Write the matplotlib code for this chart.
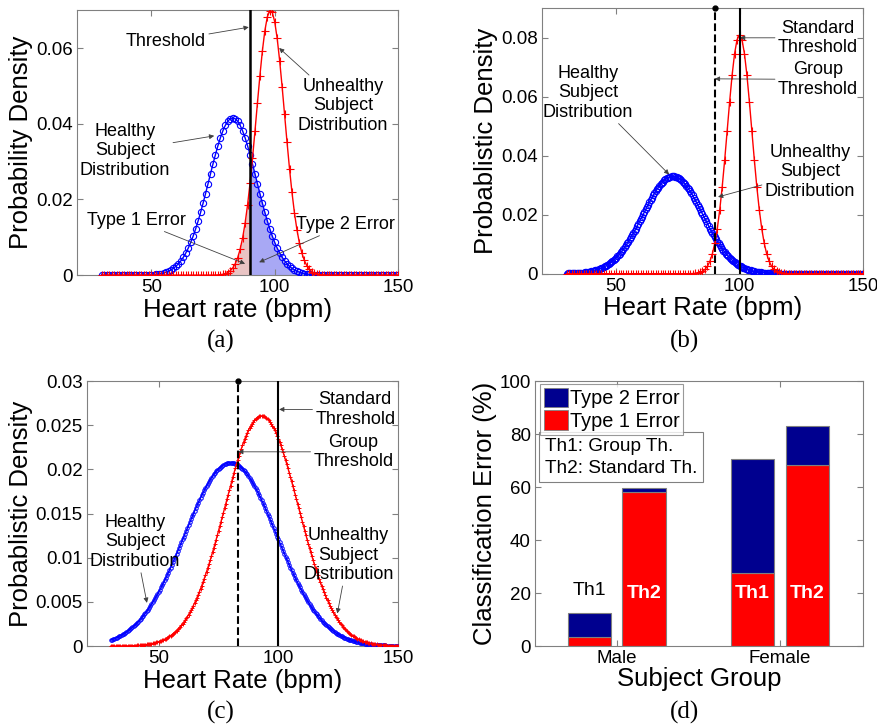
import numpy as np
import matplotlib
matplotlib.use("Agg")
import matplotlib.pyplot as plt
from matplotlib.ticker import FuncFormatter
from matplotlib.patches import Patch

plt.rcParams['font.family'] = ['Liberation Sans', 'DejaVu Sans']

# heart-rate span of the plotted curves
hr_start = 30
hr_stop = 150

# fitted normal distributions: [healthy, unhealthy] mean / std (bpm)
a_means = [83.0, 98.3]
a_sds = [9.6, 5.7]
a_threshold = 90

b_means = [73.0, 100.0]
b_sds = [12.1, 4.93]
b_group_th = 90
b_standard_th = 100

c_means = [80.0, 93.0]
c_sds = [19.2, 15.3]
c_group_th = 83
c_standard_th = 100

# classification error (%)
groups = ['Male', 'Female']
th1_type1 = [3.5, 27.5]
th1_type2 = [9.0, 43.3]
th2_type1 = [58.0, 68.5]
th2_type2 = [1.5, 14.5]

BLUE = '#0000FF'
RED = '#FF0000'
NAVY = '#00008F'
GRAY = '#808080'
ARROW = dict(arrowstyle='-|>', color='#404040', lw=0.6, mutation_scale=7,
             shrinkA=0, shrinkB=0)


def pdf(x, mu, sd):
    return np.exp(-(x - mu) ** 2 / (2 * sd ** 2)) / (sd * np.sqrt(2 * np.pi))


def style(ax):
    for s in ax.spines.values():
        s.set_color(GRAY)
        s.set_linewidth(0.8)
    ax.tick_params(direction='in', top=True, right=True, length=4,
                   color=GRAY, labelsize=13.5, pad=3)


fig = plt.figure(figsize=(8.77, 7.26), dpi=100)
ax_a = fig.add_axes([0.088, 0.621, 0.366, 0.365])
ax_b = fig.add_axes([0.618, 0.623, 0.366, 0.366])
ax_c = fig.add_axes([0.099, 0.110, 0.355, 0.365])
ax_d = fig.add_axes([0.610, 0.110, 0.374, 0.365])

fmt = FuncFormatter(lambda v, p: '%g' % v)
txt = dict(ha='center', va='center', fontsize=13, linespacing=1.2)

# ---------------- (a)
ax = ax_a
x = np.arange(hr_start, hr_stop + 0.01, 1.0)
xf = np.arange(hr_start, hr_stop + 0.01, 0.1)
ax.fill_between(xf[xf <= a_threshold], pdf(xf[xf <= a_threshold], a_means[1], a_sds[1]),
                color='#e9c4c4', lw=0, zorder=1)
ax.fill_between(xf[xf >= a_threshold], pdf(xf[xf >= a_threshold], a_means[0], a_sds[0]),
                color='#a8a8f4', lw=0, zorder=1)
ax.plot(x, pdf(x, a_means[0], a_sds[0]), '-o', color=BLUE, mfc='none', ms=4.5, lw=1, mew=0.8, zorder=3)
ax.plot(x, pdf(x, a_means[1], a_sds[1]), '-+', color=RED, ms=6, lw=1, mew=0.8, zorder=3)
ax.axvline(a_threshold, color='black', lw=1.8, zorder=4)
ax.set_xlim(20, 150)
ax.set_ylim(0, 0.07)
ax.set_xticks([50, 100, 150])
ax.set_yticks([0, 0.02, 0.04, 0.06])
ax.yaxis.set_major_formatter(fmt)
ax.set_xlabel('Heart rate (bpm)', fontsize=18.5, labelpad=1)
ax.set_ylabel('Probability Density', fontsize=18.5, labelpad=2)
ax.annotate('Threshold', xy=(89.5, 0.0655), xytext=(56, 0.0618), arrowprops=ARROW, **txt)
ax.annotate('Unhealthy\nSubject\nDistribution', xy=(101.8, 0.060), xytext=(127.7, 0.0447),
            arrowprops=ARROW, **txt)
ax.annotate('Healthy\nSubject\nDistribution', xy=(75.5, 0.0368), xytext=(39.4, 0.0329),
            arrowprops=ARROW, **txt)
ax.annotate('Type 1 Error', xy=(88, 0.003), xytext=(43.9, 0.0145), arrowprops=ARROW, **txt)
ax.annotate('Type 2 Error', xy=(93.7, 0.0034), xytext=(128.5, 0.0134), arrowprops=ARROW, **txt)
style(ax)

# ---------------- (b)
ax = ax_b
x = np.arange(hr_start, hr_stop + 0.01, 0.5)
x1 = np.arange(hr_start, hr_stop + 0.01, 1.0)
ax.plot(x, pdf(x, b_means[0], b_sds[0]), '-o', color=BLUE, mfc='none', ms=4.5, lw=1, mew=0.8, zorder=3)
ax.plot(x1, pdf(x1, b_means[1], b_sds[1]), '-+', color=RED, ms=6, lw=1, mew=0.8, zorder=3)
ax.plot([b_group_th, b_group_th], [0, 0.09], '--', color='black', lw=1.5, zorder=4)
ax.plot([b_group_th], [0.09], 'o', color='black', ms=3.5, clip_on=False, zorder=5)
ax.axvline(b_standard_th, color='black', lw=1.5, zorder=4)
ax.set_xlim(20, 150)
ax.set_ylim(0, 0.09)
ax.set_xticks([50, 100, 150])
ax.set_yticks([0, 0.02, 0.04, 0.06, 0.08])
ax.yaxis.set_major_formatter(fmt)
ax.set_xlabel('Heart Rate (bpm)', fontsize=18.5, labelpad=1)
ax.set_ylabel('Probablistic Density', fontsize=18.5, labelpad=2)
ax.annotate('Standard\nThreshold', xy=(100.2, 0.0799), xytext=(131.7, 0.0799), arrowprops=ARROW, **txt)
ax.annotate('Group\nThreshold', xy=(90, 0.066), xytext=(131.7, 0.0658), arrowprops=ARROW, **txt)
ax.annotate('Healthy\nSubject\nDistribution', xy=(71.5, 0.0336), xytext=(38.6, 0.0613),
            arrowprops=ARROW, **txt)
ax.annotate('Unhealthy\nSubject\nDistribution', xy=(91.3, 0.026), xytext=(128.5, 0.0345),
            arrowprops=ARROW, **txt)
style(ax)

# ---------------- (c)
ax = ax_c
x = np.arange(hr_start, hr_stop + 0.01, 0.5)
ax.plot(x, pdf(x, c_means[0], c_sds[0]), '-o', color=BLUE, mfc='none', ms=2.5, lw=1, mew=0.7, zorder=3)
ax.plot(x, pdf(x, c_means[1], c_sds[1]), '-+', color=RED, ms=3.5, lw=1, mew=0.7, zorder=3)
ax.plot([c_group_th, c_group_th], [0, 0.03], '--', color='black', lw=1.5, zorder=4)
ax.plot([c_group_th], [0.03], 'o', color='black', ms=3.5, clip_on=False, zorder=5)
ax.axvline(c_standard_th, color='black', lw=1.5, zorder=4)
ax.set_xlim(20, 150)
ax.set_ylim(0, 0.03)
ax.set_xticks([50, 100, 150])
ax.set_yticks([0, 0.005, 0.01, 0.015, 0.02, 0.025, 0.03])
ax.yaxis.set_major_formatter(fmt)
ax.set_xlabel('Heart Rate (bpm)', fontsize=18.5, labelpad=1)
ax.set_ylabel('Probablistic Density', fontsize=18.5, labelpad=2)
ax.annotate('Standard\nThreshold', xy=(100.3, 0.0268), xytext=(132.1, 0.0268), arrowprops=ARROW, **txt)
ax.annotate('Group\nThreshold', xy=(83.2, 0.022), xytext=(131.3, 0.022), arrowprops=ARROW, **txt)
ax.annotate('Healthy\nSubject\nDistribution', xy=(45.1, 0.0049), xytext=(40.1, 0.0118),
            arrowprops=ARROW, **txt)
ax.annotate('Unhealthy\nSubject\nDistribution', xy=(124.6, 0.0037), xytext=(129.2, 0.0103),
            arrowprops=ARROW, **txt)
style(ax)

# ---------------- (d)
ax = ax_d
pos = np.arange(1, len(groups) + 1)
w = 0.265
off = 0.168
bar_kw = dict(width=w, edgecolor=GRAY, linewidth=0.8)
ax.bar(pos - off, th1_type1, color=RED, **bar_kw)
ax.bar(pos - off, th1_type2, bottom=th1_type1, color=NAVY, **bar_kw)
ax.bar(pos + off, th2_type1, color=RED, **bar_kw)
ax.bar(pos + off, th2_type2, bottom=th2_type1, color=NAVY, **bar_kw)
ax.text(pos[0] - off, 21, 'Th1', ha='center', va='center', fontsize=14)
ax.text(pos[0] + off, 20, 'Th2', ha='center', va='center', fontsize=14, color='white', fontweight='bold')
ax.text(pos[1] - off, 20, 'Th1', ha='center', va='center', fontsize=14, color='white', fontweight='bold')
ax.text(pos[1] + off, 20, 'Th2', ha='center', va='center', fontsize=14, color='white', fontweight='bold')
ax.set_xlim(0.5, 2.51)
ax.set_ylim(0, 100)
ax.set_xticks(pos)
ax.set_xticklabels(groups)
ax.set_yticks([0, 20, 40, 60, 80, 100])
ax.set_xlabel('Subject Group', fontsize=18.5, labelpad=0)
ax.set_ylabel('Classification Error (%)', fontsize=18.5, labelpad=2)
handles = [Patch(facecolor=NAVY, edgecolor=GRAY, lw=0.6), Patch(facecolor=RED, edgecolor=GRAY, lw=0.6)]
leg = ax.legend(handles, ['Type 2 Error', 'Type 1 Error'], loc='upper left',
                bbox_to_anchor=(0.015, 0.99), fontsize=14.3, frameon=True, fancybox=False,
                borderpad=0.2, handlelength=1.2, handleheight=1.1, handletextpad=0.1,
                labelspacing=0.12, borderaxespad=0)
leg.get_frame().set_edgecolor(GRAY)
leg.get_frame().set_linewidth(0.8)
ax.text(0.03, 0.785, 'Th1: Group Th.\nTh2: Standard Th.', transform=ax.transAxes,
        ha='left', va='top', fontsize=13.7, linespacing=1.35,
        bbox=dict(boxstyle='square,pad=0.3', facecolor='white', edgecolor=GRAY, lw=0.8))
style(ax)

# panel letters
for lbl, fx, fy in [('(a)', 0.252, 0.529), ('(b)', 0.781, 0.529),
                    ('(c)', 0.252, 0.019), ('(d)', 0.781, 0.019)]:
    fig.text(fx, fy, lbl, ha='center', va='center', fontsize=18, family='Liberation Serif')

fig.savefig('out.png', dpi=100)
